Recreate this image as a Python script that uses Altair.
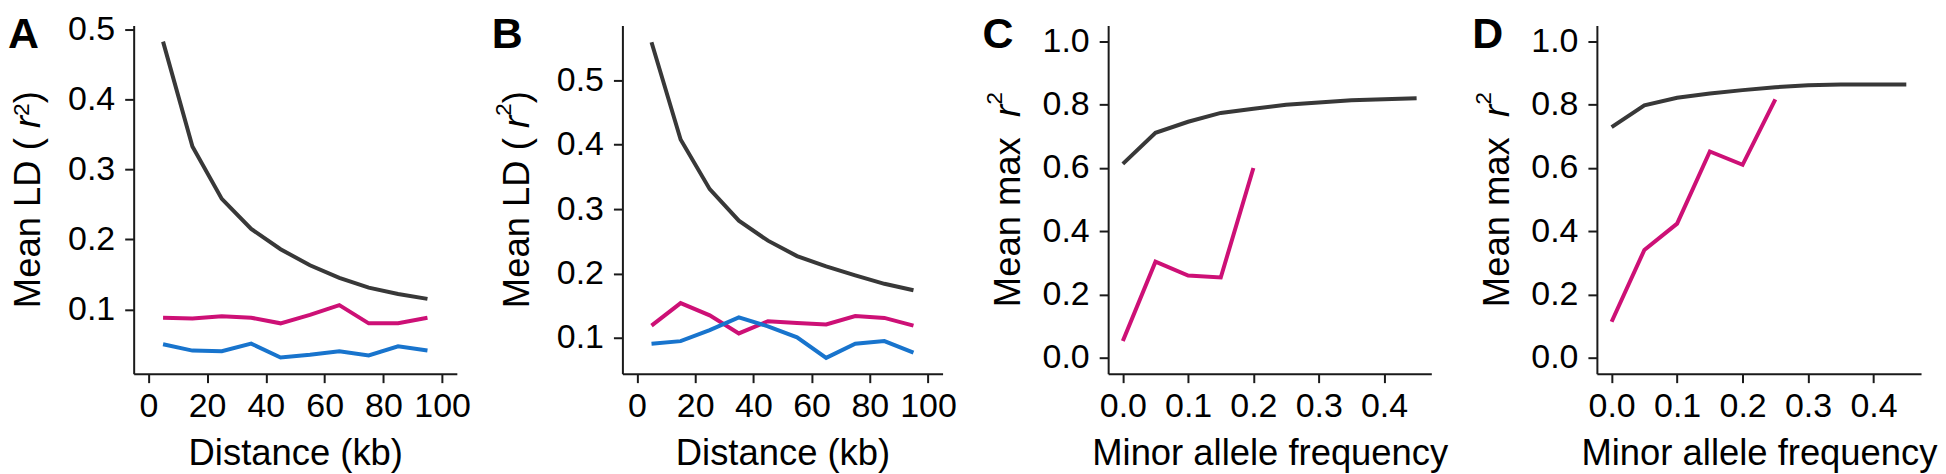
import altair as alt
import pandas as pd

# ---------------- data ----------------
series_names = ["All", "Group 1", "Group 2"]
series_colors = ["#383838", "#CD1076", "#1874CD"]

dist_kb = [5, 15, 25, 35, 45, 55, 65, 75, 85, 95]
A_black = [0.483, 0.333, 0.258, 0.215, 0.186, 0.163, 0.145, 0.131, 0.122, 0.115]
A_magenta = [0.088, 0.087, 0.090, 0.088, 0.080, 0.092, 0.106, 0.080, 0.080, 0.088]
A_blue = [0.050, 0.041, 0.040, 0.051, 0.031, 0.035, 0.040, 0.034, 0.047, 0.041]

B_black = [0.559, 0.408, 0.331, 0.282, 0.251, 0.227, 0.211, 0.197, 0.184, 0.174]
B_magenta = [0.119, 0.154, 0.135, 0.107, 0.126, 0.123, 0.121, 0.134, 0.131, 0.119]
B_blue = [0.091, 0.095, 0.112, 0.132, 0.118, 0.101, 0.069, 0.091, 0.095, 0.077]

maf = [0.0, 0.05, 0.10, 0.15, 0.20, 0.25, 0.30, 0.35, 0.40, 0.45]
C_black = [0.613, 0.711, 0.746, 0.774, 0.787, 0.800, 0.807, 0.814, 0.817, 0.820]
C_magenta = [0.053, 0.304, 0.260, 0.254, 0.600]
D_black = [0.729, 0.798, 0.822, 0.835, 0.846, 0.855, 0.861, 0.864, 0.864, 0.864]
D_magenta = [0.114, 0.341, 0.424, 0.652, 0.610, 0.817]

dist_ticks = [0, 20, 40, 60, 80, 100]
maf_ticks = [0.0, 0.1, 0.2, 0.3, 0.4]
ld_ticks = [0.1, 0.2, 0.3, 0.4, 0.5]
max_ticks = [0.0, 0.2, 0.4, 0.6, 0.8, 1.0]

# y-axis title pieces: (text, italic, superscript)
ld_title = [("Mean LD ( ", False, False), ("r", True, False), ("2", False, True), (")", False, False)]
max_title = [("Mean max  ", False, False), ("r", True, False), ("2", False, True)]

FONT = "Liberation Sans"
TITLE_FS = 36.5
SUP_FS = 23
H = 349

# Arial / Liberation Sans advance widths (em)
ADV = {"M": .833, "e": .556, "a": .556, "n": .556, " ": .278, "L": .556, "D": .722,
       "(": .333, ")": .333, "m": .833, "x": .5, "r": .333, "2": .556}


def text_width(s, fs):
    return sum(ADV[c] for c in s) * fs


def make_df(xs, groups):
    rows = []
    for name, vals in groups:
        for x, v in zip(xs, vals):
            rows.append({"x": x, "y": v, "series": name})
    return pd.DataFrame(rows)


def title_layers(pieces, base_x, sup_shift):
    widths = [text_width(t, SUP_FS if sup else TITLE_FS) for t, it, sup in pieces]
    total = sum(widths)
    ypos = H / 2 + total / 2
    layers = []
    for (t, it, sup), w in zip(pieces, widths):
        kw = dict(align="left", baseline="alphabetic", angle=270, font=FONT,
                  color="black", fontSize=SUP_FS if sup else TITLE_FS)
        if it:
            kw["fontStyle"] = "italic"
        layers.append(
            alt.Chart(pd.DataFrame({"t": [t]})).mark_text(**kw).encode(
                text="t:N",
                x=alt.value(base_x - (sup_shift if sup else 0)),
                y=alt.value(ypos),
            )
        )
        ypos -= w
    return layers


def panel(df, xdom, ydom, xticks, yticks, xfmt, xtitle, ytitle, width,
          letter, letter_x, title_x, sup_shift):
    line = alt.Chart(df).mark_line(strokeWidth=4).encode(
        x=alt.X("x:Q", scale=alt.Scale(domain=xdom, nice=False, zero=False),
                axis=alt.Axis(values=xticks, format=xfmt, title=xtitle)),
        y=alt.Y("y:Q", scale=alt.Scale(domain=ydom, nice=False, zero=False),
                axis=alt.Axis(values=yticks, format=".1f", title="")),
        color=alt.Color("series:N",
                        scale=alt.Scale(domain=series_names, range=series_colors),
                        legend=None),
    )
    lbl = alt.Chart(pd.DataFrame({"t": [letter]})).mark_text(
        align="left", baseline="top", fontSize=43, fontWeight="bold",
        font=FONT, color="black"
    ).encode(text="t:N", x=alt.value(letter_x), y=alt.value(-12))
    return alt.layer(line, lbl, *title_layers(ytitle, title_x, sup_shift)).properties(
        width=width, height=H)


dfA = make_df(dist_kb, [("All", A_black), ("Group 1", A_magenta), ("Group 2", A_blue)])
dfB = make_df(dist_kb, [("All", B_black), ("Group 1", B_magenta), ("Group 2", B_blue)])
dfC = make_df(maf, [("All", C_black), ("Group 1", C_magenta)])
dfD = make_df(maf, [("All", D_black), ("Group 1", D_magenta)])

pA = panel(dfA, [-5, 105], [0.008, 0.506], dist_ticks, ld_ticks, "d",
           "Distance (kb)", ld_title, 324, "A", -126, -94, 11)
pB = panel(dfB, [-5, 105], [0.0445, 0.585], dist_ticks, ld_ticks, "d",
           "Distance (kb)", ld_title, 321, "B", -131, -94, 18)
pC = panel(dfC, [-0.0225, 0.4725], [-0.05, 1.05], maf_ticks, max_ticks, ".1f",
           "Minor allele frequency", max_title, 324, "C", -126, -88, 18)
pD = panel(dfD, [-0.0225, 0.4725], [-0.05, 1.05], maf_ticks, max_ticks, ".1f",
           "Minor allele frequency", max_title, 325, "D", -125, -88, 18)

chart = alt.hconcat(pA, pB, pC, pD, spacing=166, bounds="flush").properties(
    padding={"left": 0, "top": 4, "right": 0, "bottom": 0}
).configure_view(stroke=None).configure_axis(
    grid=False,
    domainColor="#1a1a1a", domainWidth=2,
    tickColor="#1a1a1a", tickWidth=2, tickSize=9,
    labelFont=FONT, labelFontSize=34, labelColor="black",
    titleFont=FONT, titleFontSize=36.5, titleFontWeight="normal", titleColor="black",
    labelOverlap=False, labelFlush=False,
).configure_axisX(labelPadding=7, titlePadding=12).configure_axisY(labelPadding=10)

chart.save("out.html", embed_options={"renderer": "svg", "actions": False})
